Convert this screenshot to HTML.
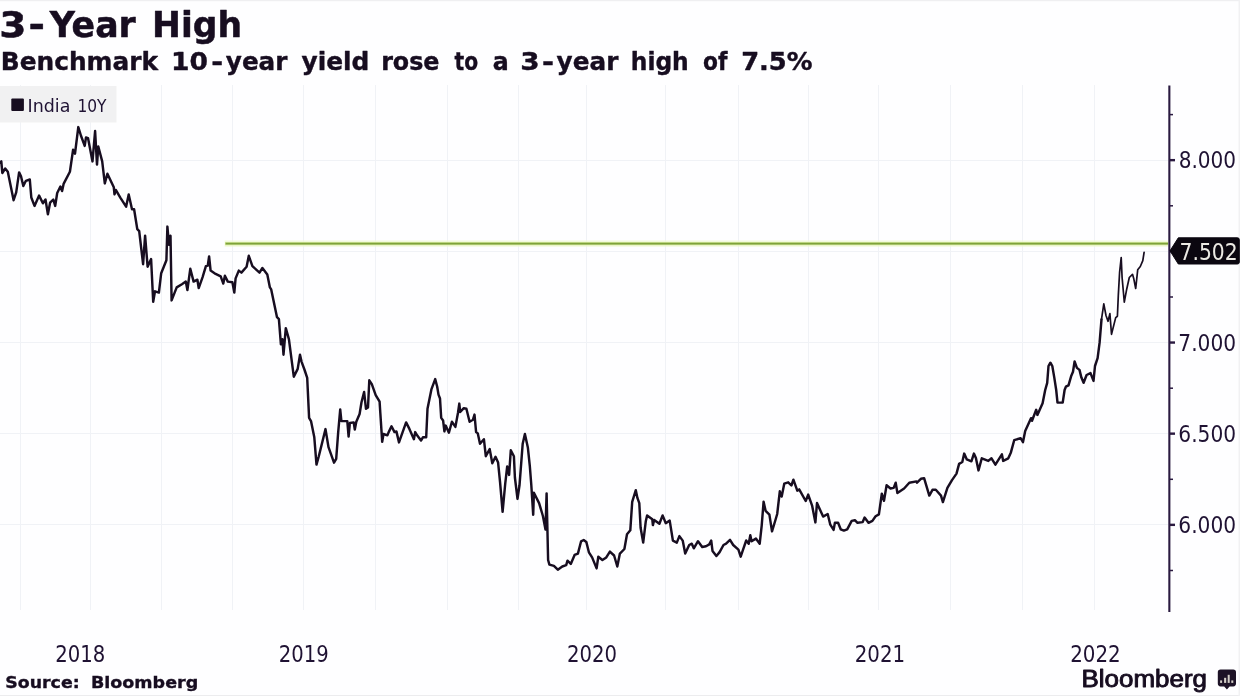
<!DOCTYPE html>
<html lang="en"><head><meta charset="utf-8"><title>3-Year High</title>
<style>
html,body{margin:0;padding:0;background:#fff;}
body{width:1240px;height:696px;overflow:hidden;}
svg{display:block;}
text{white-space:pre;}
.b{font-family:"DejaVu Sans","Liberation Sans",sans-serif;font-weight:bold;fill:#170d20;}
.c{font-family:"DejaVu Sans Condensed","DejaVu Sans","Liberation Sans",sans-serif;fill:#1f1233;}
.logo{font-family:"Liberation Sans",sans-serif;fill:#170d20;stroke:#170d20;stroke-width:0.9px;stroke-linejoin:round;}
</style></head>
<body>
<svg width="1240" height="696" viewBox="0 0 1240 696">
<rect width="1240" height="696" fill="#fefeff"/>
<rect x="0" y="0" width="1240" height="1.2" fill="#efeff1"/>
<rect x="0" y="695" width="1240" height="1" fill="#ececee"/>
<rect x="1238.5" y="0" width="1.5" height="696" fill="#f1f1f3"/>
<g stroke="#f0f2f6" stroke-width="1" shape-rendering="crispEdges">
<line x1="20" y1="85" x2="20" y2="610"/>
<line x1="90.75" y1="85" x2="90.75" y2="610"/>
<line x1="161.25" y1="85" x2="161.25" y2="610"/>
<line x1="232" y1="85" x2="232" y2="610"/>
<line x1="303" y1="85" x2="303" y2="610"/>
<line x1="375.75" y1="85" x2="375.75" y2="610"/>
<line x1="447" y1="85" x2="447" y2="610"/>
<line x1="518.25" y1="85" x2="518.25" y2="610"/>
<line x1="586.25" y1="85" x2="586.25" y2="610"/>
<line x1="665.75" y1="85" x2="665.75" y2="610"/>
<line x1="738.25" y1="85" x2="738.25" y2="610"/>
<line x1="808.25" y1="85" x2="808.25" y2="610"/>
<line x1="878" y1="85" x2="878" y2="610"/>
<line x1="950.5" y1="85" x2="950.5" y2="610"/>
<line x1="1022.5" y1="85" x2="1022.5" y2="610"/>
<line x1="1094.5" y1="85" x2="1094.5" y2="610"/>
<line x1="0" y1="160.2" x2="1168" y2="160.2"/>
<line x1="0" y1="251.4" x2="1168" y2="251.4"/>
<line x1="0" y1="342.6" x2="1168" y2="342.6"/>
<line x1="0" y1="433.7" x2="1168" y2="433.7"/>
<line x1="0" y1="524.9" x2="1168" y2="524.9"/>
</g>
<rect x="0" y="86" width="116.5" height="36.5" fill="#f1f1f2"/>
<rect x="11.3" y="98.6" width="12.6" height="12.4" rx="1" fill="#170d20"/>
<text class="c" y="111.6" font-size="18"><tspan x="27.59" textLength="42.81" lengthAdjust="spacingAndGlyphs">India</tspan> <tspan x="77.39" textLength="29.08" lengthAdjust="spacingAndGlyphs">10Y</tspan></text>
<text class="b" y="37" font-size="35" stroke="#170d20" stroke-width="0.5" stroke-linejoin="round"><tspan x="-0.74" textLength="27.21" lengthAdjust="spacingAndGlyphs">3</tspan><tspan x="28.64" textLength="16.44" lengthAdjust="spacingAndGlyphs">-</tspan><tspan x="49.64" textLength="86.12" lengthAdjust="spacingAndGlyphs">Year</tspan> <tspan x="152.1" textLength="89.95" lengthAdjust="spacingAndGlyphs">High</tspan></text>
<text class="b" y="70" font-size="25.5" stroke="#170d20" stroke-width="0.4" stroke-linejoin="round"><tspan x="0.76" textLength="157.18" lengthAdjust="spacingAndGlyphs">Benchmark</tspan> <tspan x="171.0" textLength="36.95" lengthAdjust="spacingAndGlyphs">10</tspan><tspan x="211.36" textLength="11.89" lengthAdjust="spacingAndGlyphs">-</tspan><tspan x="225.8" textLength="61.63" lengthAdjust="spacingAndGlyphs">year</tspan> <tspan x="301.5" textLength="67.87" lengthAdjust="spacingAndGlyphs">yield</tspan> <tspan x="381.14" textLength="58.35" lengthAdjust="spacingAndGlyphs">rose</tspan> <tspan x="454.6" textLength="23.62" lengthAdjust="spacingAndGlyphs">to</tspan> <tspan x="492.76" textLength="15.99" lengthAdjust="spacingAndGlyphs">a</tspan> <tspan x="520.36" textLength="19.42" lengthAdjust="spacingAndGlyphs">3</tspan><tspan x="541.94" textLength="12.02" lengthAdjust="spacingAndGlyphs">-</tspan><tspan x="556.6" textLength="61.73" lengthAdjust="spacingAndGlyphs">year</tspan> <tspan x="630.77" textLength="57.99" lengthAdjust="spacingAndGlyphs">high</tspan> <tspan x="703.12" textLength="24.39" lengthAdjust="spacingAndGlyphs">of</tspan> <tspan x="741.19" textLength="71.36" lengthAdjust="spacingAndGlyphs">7.5%</tspan></text>
<line x1="224.6" y1="243.6" x2="1168" y2="243.6" stroke="#eff9cf" stroke-width="6.4" opacity="0.75"/>
<line x1="225" y1="243.6" x2="1168" y2="243.6" stroke="#cde38f" stroke-width="3.4" opacity="0.85"/>
<line x1="225.6" y1="243.6" x2="1168" y2="243.6" stroke="#7ea23a" stroke-width="1.7"/>
<polyline fill="none" stroke="#170d20" stroke-width="2.45" stroke-linejoin="round" stroke-linecap="round" points="0.0,162.7 1.3,161.4 2.3,173.0 5.2,168.5 7.8,171.7 13.6,200.2 16.2,192.4 19.1,172.4 21.0,176.3 23.3,186.0 25.9,180.8 29.8,179.5 31.3,197.5 34.5,205.9 39.1,195.6 42.9,203.3 45.5,199.5 47.9,214.3 50.1,202.7 53.3,199.5 55.2,205.9 57.2,193.0 60.4,186.5 62.1,191.0 63.6,183.9 69.9,171.7 73.1,149.8 75.0,153.6 78.3,127.1 80.9,135.5 84.7,145.9 86.0,137.5 88.0,138.1 92.5,161.4 95.1,131.0 97.0,164.6 98.3,146.5 102.2,161.4 104.8,183.4 107.4,173.7 113.8,187.3 114.5,194.4 115.8,189.9 120.3,197.6 126.1,206.7 128.7,194.4 132.0,209.3 134.1,209.2 137.3,229.2 139.2,231.2 143.1,264.2 145.1,235.7 147.6,266.7 151.1,259.0 153.2,301.7 155.0,291.3 158.9,292.6 161.2,273.2 163.8,266.7 166.4,260.3 167.4,226.6 169.0,244.8 170.5,235.7 171.6,300.4 176.7,287.4 181.9,284.2 185.8,281.6 187.4,290.0 190.3,268.7 193.6,281.6 197.4,279.7 198.7,288.1 202.6,277.1 205.9,266.1 207.8,265.5 209.1,256.4 210.6,270.6 215.6,273.9 220.7,276.4 223.3,283.6 224.9,275.8 227.8,281.6 232.4,282.3 234.3,292.6 235.6,278.4 238.8,270.6 241.4,272.6 246.6,266.7 248.8,255.8 252.4,266.1 259.5,272.6 262.4,268.0 267.3,274.5 269.9,287.4 271.2,289.4 277.0,317.2 278.9,319.1 280.9,344.3 282.4,339.2 283.5,354.7 285.8,328.2 288.9,339.2 293.8,376.7 297.7,368.9 300.0,354.7 301.6,361.8 304.6,370.0 307.2,377.8 309.1,417.9 311.0,421.1 314.3,437.3 316.5,464.6 318.8,456.2 325.5,429.1 328.5,447.2 334.0,462.7 336.2,458.8 338.2,432.1 340.2,409.5 341.4,421.1 347.3,421.1 348.6,436.6 349.9,423.0 353.7,422.4 354.8,429.5 356.3,421.7 359.6,414.0 361.5,402.3 364.1,392.0 366.0,408.8 368.0,407.5 369.3,380.3 371.8,384.2 375.7,395.2 379.6,401.7 380.3,412.7 382.2,441.8 383.5,434.0 387.4,435.3 388.7,432.1 391.5,426.3 394.5,432.1 396.4,431.4 399.0,442.4 402.9,431.4 406.1,422.4 409.4,428.9 413.9,439.2 415.2,432.1 417.1,435.3 421.0,440.5 422.9,437.3 426.2,437.3 427.5,408.8 431.4,389.4 435.2,379.1 437.2,386.8 438.5,394.6 440.0,398.5 441.2,417.9 443.1,420.5 444.4,431.4 445.7,425.6 448.9,432.7 451.9,421.7 455.4,426.9 458.0,412.7 459.3,403.6 460.2,412.0 463.8,408.2 466.4,408.8 469.6,421.7 472.9,419.8 474.5,414.6 476.1,432.1 477.8,433.4 480.0,443.7 483.9,439.2 485.8,456.2 489.7,449.1 492.3,463.3 495.5,456.8 498.1,462.6 500.1,482.7 502.6,511.8 505.2,484.0 507.2,466.5 509.1,474.9 510.8,450.3 513.9,456.2 514.9,477.5 517.5,498.9 519.5,485.3 522.7,443.7 524.9,434.0 527.9,447.8 529.8,465.9 531.3,485.0 533.2,514.8 533.9,492.8 539.1,503.1 542.9,516.0 545.5,529.6 546.6,493.4 548.1,560.0 549.4,564.6 553.9,565.9 557.8,569.7 562.3,566.5 566.2,565.2 567.5,560.7 570.8,563.9 574.6,554.9 577.9,553.6 581.1,541.3 583.7,540.0 586.3,541.9 588.9,552.3 592.1,557.4 596.6,568.4 598.3,556.8 602.4,560.0 606.3,557.4 609.9,551.6 614.1,555.5 617.3,566.5 619.9,553.6 624.4,549.0 627.0,534.2 630.3,530.3 632.2,501.8 635.8,490.2 637.4,497.9 639.3,503.1 640.6,527.7 643.2,542.6 645.8,521.2 647.1,515.4 652.3,519.3 652.9,525.1 654.2,519.9 659.4,523.8 662.6,515.4 665.8,523.2 669.7,520.6 672.9,540.6 676.8,542.6 679.4,536.1 682.7,540.6 685.2,553.6 689.2,545.0 691.8,543.7 693.8,548.3 698.0,541.2 702.2,547.0 706.0,546.3 709.3,544.4 711.2,540.5 712.5,550.9 716.4,556.0 719.6,552.1 723.5,545.0 726.1,543.7 730.0,539.9 733.2,545.0 738.4,549.6 740.7,556.7 742.9,550.2 746.2,540.5 748.7,543.7 750.3,535.3 751.6,541.2 755.9,538.6 759.7,543.7 761.7,525.6 763.6,501.7 765.6,510.8 769.4,514.6 772.0,531.4 775.3,520.5 777.2,514.0 779.8,491.3 781.7,496.5 784.3,483.6 788.2,482.3 791.4,485.5 793.4,479.7 797.3,490.7 799.2,489.4 805.7,501.0 808.2,494.6 812.1,505.6 815.4,522.4 817.0,503.0 823.1,516.6 827.7,514.0 830.3,524.7 833.6,529.9 834.9,522.8 838.1,522.8 840.7,529.3 843.9,530.6 847.2,529.3 851.7,520.9 854.9,520.2 857.5,522.8 862.7,522.1 864.6,517.6 868.5,522.8 872.4,520.9 875.6,516.3 878.9,514.4 881.8,493.7 884.0,500.8 886.6,485.3 890.5,488.5 893.7,487.9 895.7,482.7 897.4,493.0 904.1,488.5 909.3,482.7 916.4,481.4 917.0,482.7 920.9,478.8 924.1,478.2 929.3,495.6 932.5,489.8 935.8,489.8 941.0,495.6 942.9,502.1 947.4,487.9 952.0,480.1 956.5,473.6 959.1,463.9 962.3,462.0 964.2,453.6 966.8,459.4 971.4,461.3 973.9,453.6 975.9,458.1 978.5,470.4 981.8,458.3 988.3,460.9 991.5,458.3 995.4,464.7 1001.9,454.4 1003.2,460.9 1008.3,458.3 1010.9,452.4 1014.2,440.2 1020.6,438.2 1023.0,442.1 1025.2,431.1 1031.0,418.2 1032.0,420.8 1036.2,409.8 1037.4,414.9 1042.6,403.3 1045.2,390.0 1047.2,382.8 1048.5,366.0 1050.4,362.7 1052.3,366.0 1054.3,377.6 1056.2,390.0 1057.5,402.6 1062.7,402.6 1064.6,390.0 1065.9,386.7 1068.5,385.4 1071.1,376.3 1073.0,371.8 1074.6,361.4 1076.9,367.9 1079.5,369.9 1081.4,377.6 1083.6,382.8 1086.6,375.0 1090.5,373.1 1093.5,380.9 1095.0,366.0 1097.6,358.2 1099.6,342.7 1101.5,319.4"/>
<polyline fill="none" stroke="#170d20" stroke-width="1.7" stroke-linejoin="round" stroke-linecap="round" points="1101.5,319.4 1103.8,303.9 1106.0,315.5 1108.0,321.3 1109.9,313.6 1111.5,334.3 1115.7,317.6 1117.4,316.3 1118.3,295.6 1119.6,272.3 1121.2,257.5 1122.1,277.5 1124.3,302.1 1126.7,289.2 1129.3,277.5 1132.5,274.3 1133.8,278.8 1135.7,288.5 1137.7,269.8 1140.3,266.5 1142.8,260.7 1144.1,252.3"/>
<rect x="1168.3" y="85.5" width="2.1" height="526.5" fill="#2a1a40"/>
<g fill="#2a1a40">
<rect x="1169" y="158.95" width="6" height="2.4"/>
<rect x="1169" y="250.15" width="6" height="2.4"/>
<rect x="1169" y="341.35" width="6" height="2.4"/>
<rect x="1169" y="432.45" width="6" height="2.4"/>
<rect x="1169" y="523.65" width="6" height="2.4"/>
<rect x="1169" y="113.85" width="4" height="1.5"/>
<rect x="1169" y="205.05" width="4" height="1.5"/>
<rect x="1169" y="296.25" width="4" height="1.5"/>
<rect x="1169" y="387.45" width="4" height="1.5"/>
<rect x="1169" y="478.55" width="4" height="1.5"/>
<rect x="1169" y="569.75" width="4" height="1.5"/>
</g>
<g class="c" font-size="22.5">
<text y="168.4"><tspan x="1178.65" textLength="57.41" lengthAdjust="spacingAndGlyphs">8.000</tspan></text>
<text y="350.8"><tspan x="1178.3" textLength="57.77" lengthAdjust="spacingAndGlyphs">7.000</tspan></text>
<text y="441.9"><tspan x="1178.3" textLength="57.77" lengthAdjust="spacingAndGlyphs">6.500</tspan></text>
<text y="533.1"><tspan x="1178.3" textLength="57.77" lengthAdjust="spacingAndGlyphs">6.000</tspan></text>
<text y="662"><tspan x="55.23" textLength="50.0" lengthAdjust="spacingAndGlyphs">2018</tspan></text>
<text y="662"><tspan x="278.84" textLength="49.9" lengthAdjust="spacingAndGlyphs">2019</tspan></text>
<text y="662"><tspan x="567.03" textLength="50.0" lengthAdjust="spacingAndGlyphs">2020</tspan></text>
<text y="662"><tspan x="854.72" textLength="50.37" lengthAdjust="spacingAndGlyphs">2021</tspan></text>
<text y="662"><tspan x="1070.22" textLength="50.52" lengthAdjust="spacingAndGlyphs">2022</tspan></text>
</g>
<path d="M1170 250.8 L1178.3 237.8 H1237.5 Q1239.3 237.8 1239.3 239.6 V262.2 Q1239.3 264 1237.5 264 H1178.3 Z" fill="#0b0710" stroke="#0b0710" stroke-width="1" stroke-linejoin="round"/>
<text class="c" y="260.3" font-size="22.5" style="fill:#eceae4"><tspan x="1179.59" textLength="58.09" lengthAdjust="spacingAndGlyphs">7.502</tspan></text>
<text class="b" y="687.8" font-size="16.5" stroke="#170d20" stroke-width="0.35"><tspan x="5.32" textLength="74.27" lengthAdjust="spacingAndGlyphs">Source:</tspan> <tspan x="90.93" textLength="107.29" lengthAdjust="spacingAndGlyphs">Bloomberg</tspan></text>
<text class="logo" y="687.3" font-size="23.3"><tspan x="1081.57" textLength="125.38" lengthAdjust="spacingAndGlyphs">Bloomberg</tspan></text>
<g>
<path d="M1220.6 669.4 h12.6 a2.8 2.8 0 0 1 2.8 2.8 v11.4 a2.8 2.8 0 0 1 -2.8 2.8 h-3.6 l-2.7 3.1 l-2.7 -3.1 h-3.6 a2.8 2.8 0 0 1 -2.8 -2.8 v-11.4 a2.8 2.8 0 0 1 2.8 -2.8 z" fill="#1d1226"/>
<g fill="#d4cfc8"><rect x="1220.1" y="680.4" width="2" height="2.5"/><rect x="1224.1" y="677.8" width="2.1" height="5.1"/><rect x="1227.7" y="674.8" width="2" height="8.1"/><rect x="1231.3" y="680.4" width="2" height="2.5"/></g>
</g>
</svg>
</body></html>
